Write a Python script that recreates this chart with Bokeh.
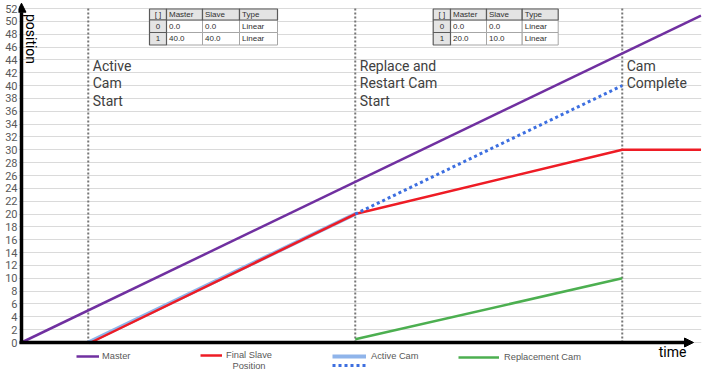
import math
from bokeh.plotting import figure
from bokeh.models import Range1d, FixedTicker, Arrow, NormalHead, Legend, LegendItem
from bokeh.core.properties import value
from bokeh.embed import file_html
from bokeh.resources import INLINE

# ---------------- data ----------------
master_x = [0.0, 50.9]
master_y = [0.0, 50.9]
final_x = [5.2, 25.0, 45.0, 50.9]
final_y = [0.0, 20.0, 30.0, 30.0]
active_x = [5.0, 25.0]
active_y = [0.0, 20.0]
active_cont_x = [25.0, 45.0]
active_cont_y = [20.0, 40.0]
repl_x = [25.0, 45.0]
repl_y = [0.5, 10.0]

event_x = [5.0, 25.0, 45.0]
event_top = 52.0
event_labels = ["Active\nCam\nStart", "Replace and\nRestart Cam\nStart", "Cam\nComplete"]

y_ticks = list(range(0, 54, 2))

table_header = ["[ ]", "Master", "Slave", "Type"]
table_index = ["0", "1"]
cam1_master = ["0.0", "40.0"]
cam1_slave = ["0.0", "40.0"]
cam1_type = ["Linear", "Linear"]
cam2_master = ["0.0", "20.0"]
cam2_slave = ["0.0", "10.0"]
cam2_type = ["Linear", "Linear"]

legend_labels = ["Master", "Final Slave", "Active Cam", "Replacement Cam"]
legend_label_2nd = "Position"

# ---------------- layout helpers (reference pixels -> data) ----------------
W, H = 705, 374
PXX = 13.35   # px per x unit
PXY = 6.423   # px per y unit


def X(rx):
    return (rx - 21.0) / PXX


def Y(ry):
    return (342.0 - ry) / PXY


FL, FR, FT, FB = 18, 701, 1, 372  # frame edges in figure px

p = figure(width=W, height=H,
           x_range=Range1d(X(FL), X(FR)),
           y_range=Range1d(Y(FB), Y(FT)),
           output_backend="svg", toolbar_location=None,
           x_axis_location=None,
           min_border_left=FL, min_border_right=W - FR,
           min_border_top=FT, min_border_bottom=H - FB)
p.outline_line_color = None
p.background_fill_color = "white"
p.xgrid.visible = False

ticker = FixedTicker(ticks=y_ticks)
p.yaxis.ticker = ticker
p.ygrid.ticker = ticker
p.ygrid.grid_line_color = "#dadada"
p.ygrid.grid_line_width = 1.2
p.yaxis.axis_line_color = None
p.yaxis.major_tick_line_color = None
p.yaxis.minor_tick_line_color = None
p.yaxis.major_tick_out = 0
p.yaxis.major_tick_in = 0
p.yaxis.minor_tick_out = 0
p.yaxis.axis_label_standoff = 0
p.yaxis.major_label_text_font = "Roboto"
p.yaxis.major_label_text_font_size = "11px"
p.yaxis.major_label_text_color = "#595959"
p.yaxis.major_label_standoff = 1

# ---------------- event dotted lines ----------------
p.segment(x0=event_x, y0=[0] * len(event_x), x1=event_x, y1=[event_top] * len(event_x),
          line_color="#777777", line_width=2, line_dash="2 2")

# ---------------- series ----------------
r_master = p.line(master_x, master_y, line_color="#7030a0", line_width=2.5)
r_active = p.line(active_x, active_y, line_color="#8fb4ea", line_width=4)
r_final = p.line(final_x, final_y, line_color="#ee1c25", line_width=2.5)
r_dot = p.line(active_cont_x, active_cont_y, line_color="#3d6fe0", line_width=3, line_dash="3 3")
r_repl = p.line(repl_x, repl_y, line_color="#4caf50", line_width=2.5)

# ---------------- axes arrows ----------------
p.add_layout(Arrow(end=NormalHead(size=9, fill_color="black", line_color="black"),
                   x_start=-0.15, y_start=0, x_end=X(693), y_end=0,
                   line_color="black", line_width=3.5))
p.add_layout(Arrow(end=NormalHead(size=9, fill_color="black", line_color="black"),
                   x_start=0, y_start=-0.25, x_end=0, y_end=Y(2.7),
                   line_color="black", line_width=3.5))

# ---------------- event labels ----------------
p.text(x=[e + 4.5 / PXX for e in event_x], y=[Y(57.5)] * 3, text=event_labels,
       text_font=value("Roboto"), text_font_size="14px", text_color="#404040",
       text_align="left", text_baseline="top", text_line_height=1.08)

# axis titles
p.text(x=[X(30)], y=[Y(38.5)], text=["position"], angle=-math.pi / 2,
       text_font=value("Roboto"), text_font_size="14px", text_color="black",
       text_align="center", text_baseline="middle")
p.text(x=[X(672)], y=[Y(351)], text=["time"],
       text_font=value("Roboto"), text_font_size="14px", text_color="black",
       text_align="center", text_baseline="middle")

# ---------------- tables ----------------
row_edges = [8.5, 19.5, 32.0, 44.5]


def draw_table(col_edges, masters, slaves, types):
    hl, hr, ht, hb = [], [], [], []
    dl, dr, dt, db = [], [], [], []
    for c in range(4):
        hl.append(X(col_edges[c])); hr.append(X(col_edges[c + 1]))
        ht.append(Y(row_edges[0])); hb.append(Y(row_edges[1]))
    for r in range(2):
        hl.append(X(col_edges[0])); hr.append(X(col_edges[1]))
        ht.append(Y(row_edges[r + 1])); hb.append(Y(row_edges[r + 2]))
        for c in range(1, 4):
            dl.append(X(col_edges[c])); dr.append(X(col_edges[c + 1]))
            dt.append(Y(row_edges[r + 1])); db.append(Y(row_edges[r + 2]))
    p.quad(left=dl, right=dr, top=dt, bottom=db, fill_color="white",
           line_color="#a6a6a6", line_width=1)
    p.quad(left=hl, right=hr, top=ht, bottom=hb, fill_color="#e4e4e4",
           line_color="#5a5a5a", line_width=1.2)
    tx, ty, tt, ta = [], [], [], []
    for c in range(4):
        yc = Y((row_edges[0] + row_edges[1]) / 2)
        if c == 0:
            tx.append(X((col_edges[0] + col_edges[1]) / 2)); ta.append("center")
        else:
            tx.append(X(col_edges[c] + 2.5)); ta.append("left")
        ty.append(yc); tt.append(table_header[c])
    for r in range(2):
        yc = Y((row_edges[r + 1] + row_edges[r + 2]) / 2)
        tx.append(X((col_edges[0] + col_edges[1]) / 2)); ty.append(yc)
        tt.append(table_index[r]); ta.append("center")
        for c, vals in zip(range(1, 4), (masters, slaves, types)):
            tx.append(X(col_edges[c] + 2.5)); ty.append(yc)
            tt.append(vals[r]); ta.append("left")
    p.text(x=tx, y=ty, text=tt, text_align=ta, text_baseline="middle",
           text_font=value("Liberation Sans"), text_font_size="8px", text_color="#303030")


draw_table([149, 166, 202, 239, 277], cam1_master, cam1_slave, cam1_type)
draw_table([432.7, 450, 486, 521.7, 557.7], cam2_master, cam2_slave, cam2_type)

# ---------------- legends ----------------
def add_legend(label, renderer, ref_left, ref_cy, gw, standoff):
    lx = ref_left - FL
    ly = (FB - ref_cy) - 6
    lg = Legend(items=[LegendItem(label=label, renderers=[renderer])],
                location=(lx, ly), orientation="horizontal",
                glyph_width=gw, glyph_height=12, label_height=12,
                label_standoff=standoff, padding=0, margin=0, spacing=0,
                border_line_color=None, background_fill_alpha=0,
                label_text_font="Liberation Sans", label_text_font_size="9.3px",
                label_text_color="#595959", label_text_baseline="middle")
    p.add_layout(lg, "center")


add_legend(legend_labels[0], r_master, 76, 356, 23, 3)
add_legend(legend_labels[1], r_final, 200, 355, 22, 4)
add_legend(legend_labels[2], r_active, 332, 356, 34, 5)
add_legend(" ", r_dot, 332, 364.7, 34, 5)
add_legend(legend_labels[3], r_repl, 458, 357.2, 41, 5)

p.text(x=[X(248.5)], y=[Y(365.7)], text=[legend_label_2nd], text_align="center",
       text_baseline="middle", text_font=value("Liberation Sans"),
       text_font_size="9.3px", text_color="#595959")

open("out.html", "w").write(file_html(p, INLINE))
